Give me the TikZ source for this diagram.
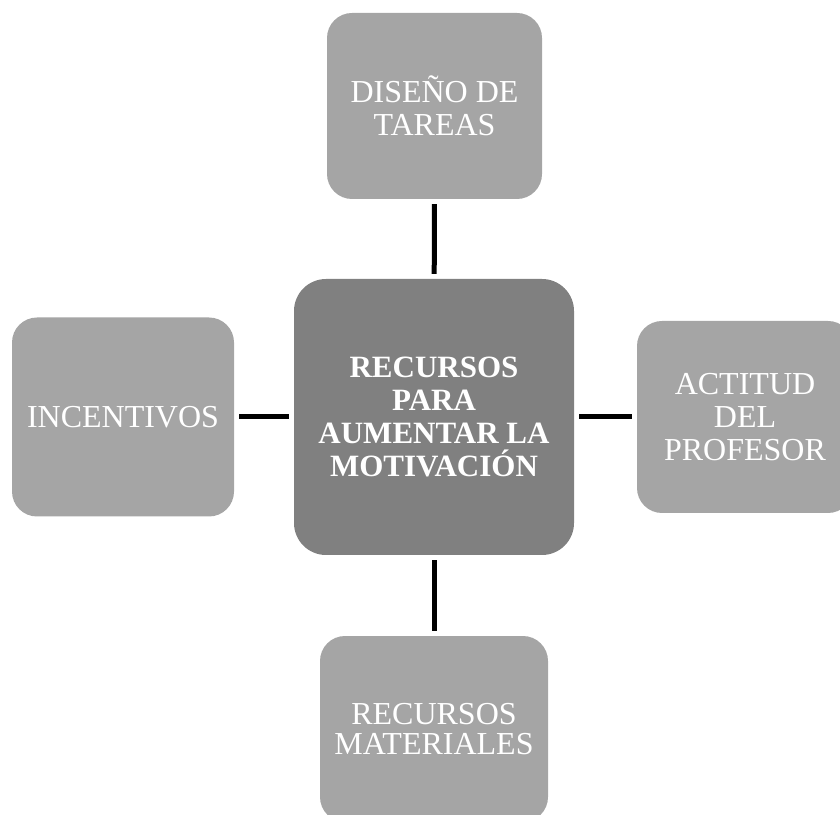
\documentclass[tikz,border=0pt]{standalone}
\usepackage{fontspec}
\setmainfont{Liberation Serif}
\definecolor{boxdark}{HTML}{808080}
\definecolor{boxlight}{HTML}{A5A5A5}
\begin{document}
\begin{tikzpicture}[x=1pt,y=1pt,
    outer/.style={fill=boxlight,rounded corners=25pt,text=white,align=center,
        font=\fontsize{32}{33}\selectfont},
    link/.style={line width=5pt,shorten <=5pt,shorten >=5pt}]
        \clip (0,0) rectangle (840,814);
        \node[fill=boxdark,rounded corners=32pt,minimum width=280pt,minimum height=276pt,text=white,align=center,font=\fontsize{31}{33}\selectfont\bfseries] (core) at (434,397) {RECURSOS\\PARA\\AUMENTAR LA\\MOTIVACIÓN};
        \node[outer,minimum width=215pt,minimum height=186pt] (tareas) at (434.5,708) {DISEÑO DE\\TAREAS};
        \node[outer,minimum width=222pt,minimum height=199pt] (incent) at (123,397) {INCENTIVOS};
        \node[outer,minimum width=216pt,minimum height=192pt] (actitud) at (745,397) {ACTITUD\\DEL\\PROFESOR};
        \node[outer,minimum width=228pt,minimum height=186pt,font=\fontsize{32}{30}\selectfont] (material) at (434,85) {RECURSOS\\MATERIALES};
        \draw[link] (core) -- (tareas);
        \draw[link] (core) -- (incent);
        \draw[link] (core) -- (actitud);
        \draw[link] (core) -- (material);
    \end{tikzpicture}
\end{document}
